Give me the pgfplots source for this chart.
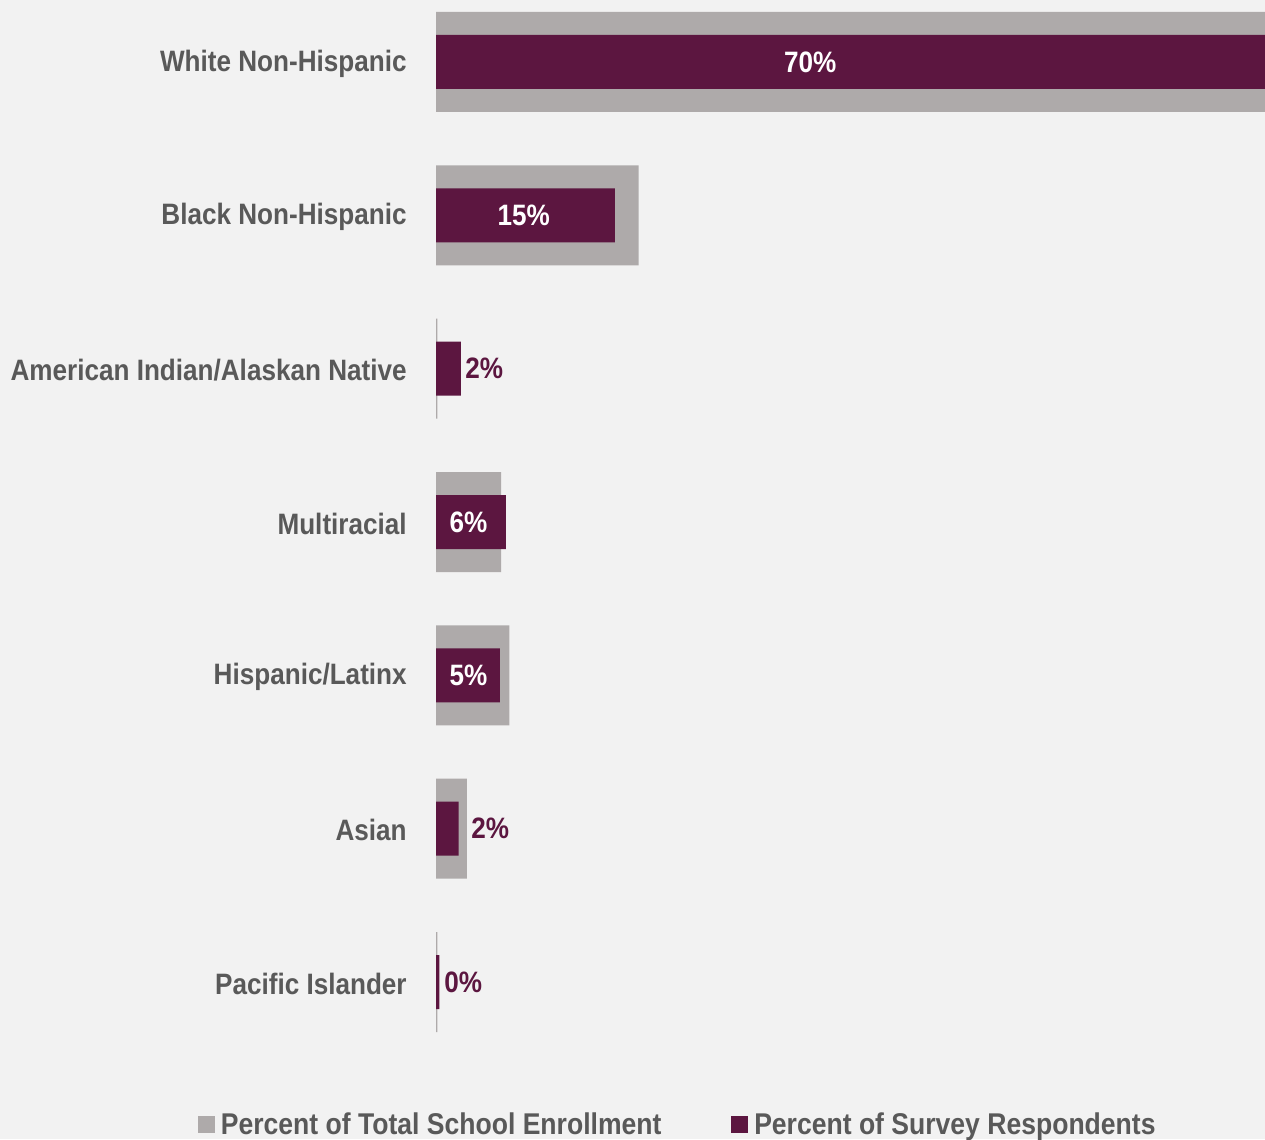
\documentclass[border=0pt]{standalone}
\usepackage{fontspec}
\setmainfont[FakeStretch=0.885]{Liberation Sans}
\usepackage{pgfplots}
\pgfplotsset{compat=1.18}
\definecolor{bgc}{HTML}{F2F2F2}
\definecolor{grayb}{HTML}{AEAAAA}
\definecolor{maroon}{HTML}{5C1640}
\definecolor{txt}{HTML}{595959}
\newcommand{\lf}{\fontsize{17.7pt}{20pt}\selectfont\bfseries}
\newcommand{\lgf}{\fontsize{18pt}{20pt}\selectfont\bfseries}
\begin{document}
\begin{tikzpicture}
\fill[bgc] (0,0) rectangle (759pt,-683.4pt);
\begin{axis}[
  at={(261.6pt,0pt)}, anchor=north west,
  scale only axis, width=497.4pt, height=635.2pt,
  xmin=0, xmax=70, ymin=-0.404, ymax=6.5,
  y dir=reverse,
  axis line style={draw=none},
  major tick length=0pt,
  xtick=\empty,
  ytick={0,1,2,3,4,5,6},
  yticklabels={White Non-Hispanic, Black Non-Hispanic, American Indian/Alaskan Native, Multiracial, Hispanic/Latinx, Asian, Pacific Islander},
  yticklabel style={font=\lf, text=txt, inner sep=0pt, xshift=-17.4pt, yshift=-1pt},
  legend columns=2,
  legend style={at={(0.2925,-0.0625)}, anchor=center, draw=none, fill=none,
    font=\lgf, text=txt, column sep=0pt,
    /tikz/every odd column/.style={column sep=1.5pt},
    /tikz/every even column/.style={column sep=40pt}},
  legend image code/.code={\fill[#1] (0pt,-5.1pt) rectangle (10.2pt,5.1pt);},
]
\addplot[xbar, bar shift=0pt, bar width=60pt, fill=grayb, draw=none] coordinates {
  (72,0) (17.1,1) (0.12,2) (5.5,3) (6.2,4) (2.6,5) (0.12,6)};
\addlegendentry{Percent of Total School Enrollment}
\addplot[xbar, bar shift=0pt, bar width=32.4pt, fill=maroon, draw=none] coordinates {
  (70,0) (15.1,1) (2.1,2) (5.9,3) (5.4,4) (1.9,5) (0.28,6)};
\addlegendentry{Percent of Survey Respondents}
\addplot[draw=none, forget plot, nodes near coords, point meta=explicit symbolic,
  nodes near coords style={anchor=center, text=white, font=\lf, inner sep=0pt}] coordinates {
  (31.6,0) [70\%] (7.4,1) [15\%] (2.75,3) [6\%] (2.75,4) [5\%]};
\addplot[draw=none, forget plot, nodes near coords, point meta=explicit symbolic,
  nodes near coords style={anchor=west, text=maroon, font=\lf, inner sep=0pt}] coordinates {
  (2.45,2) [2\%] (2.96,5) [2\%] (0.68,6) [0\%]};
\end{axis}
\pgfresetboundingbox
\useasboundingbox (0,0) rectangle (759pt,-683.4pt);
\end{tikzpicture}
\end{document}
